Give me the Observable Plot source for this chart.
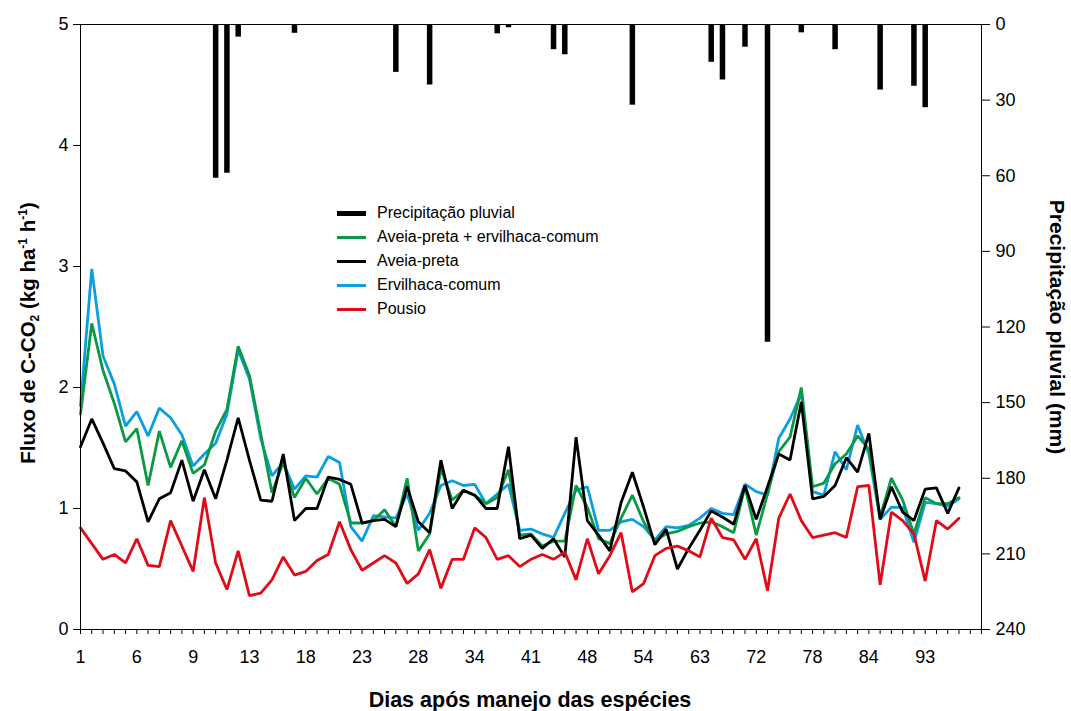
<!DOCTYPE html>
<html><head><meta charset="utf-8">
<script src="https://cdn.jsdelivr.net/npm/d3@7"></script>
<script src="https://cdn.jsdelivr.net/npm/@observablehq/plot@0.6"></script>
<style>
body{margin:0;background:#fff;}
#wrap{position:relative;width:1071px;height:711px;font-family:"Liberation Sans",Arial,sans-serif;}
#legend{position:absolute;left:337px;top:201px;font-size:16px;color:#000;}
.row{height:24.1px;display:flex;align-items:center;white-space:nowrap;}
.sw{width:29px;margin-right:11px;}
</style></head><body><div id="wrap"></div>
<script>
// X tick labels (days after species management), one label every 5 sampling dates
const xTickLabels = ["1","6","9","13","18","23","28","34","41","48","54","63","72","78","84","93"];
const fluxTicks = [0,1,2,3,4,5];
const precipTicks = [0,30,60,90,120,150,180,210,240];

// C-CO2 flux (kg ha-1 h-1), one value per sampling date (index 0..78)
const ervilhaca = [1.85,2.98,2.26,2.03,1.68,1.80,1.60,1.83,1.75,1.61,1.35,1.45,1.54,1.78,2.31,2.07,1.58,1.27,1.38,1.16,
  1.27,1.26,1.43,1.38,0.85,0.73,0.94,0.93,0.92,1.12,0.82,0.96,1.19,1.23,1.19,1.20,1.04,1.12,1.20,0.82,
  0.83,0.79,0.76,0.96,1.15,1.18,0.82,0.82,0.89,0.91,0.85,0.74,0.85,0.84,0.86,0.92,1.00,0.96,0.95,1.20,
  1.14,1.11,1.58,1.74,1.95,1.14,1.11,1.47,1.32,1.69,1.45,0.91,1.01,1.01,0.72,1.05,1.04,1.02,1.08];
const consorcio = [1.78,2.53,2.14,1.87,1.55,1.66,1.19,1.64,1.34,1.56,1.29,1.36,1.64,1.82,2.34,2.10,1.62,1.13,1.38,1.09,
  1.25,1.12,1.25,1.20,0.88,0.88,0.90,0.99,0.85,1.25,0.65,0.79,1.33,1.07,1.15,1.11,1.04,1.09,1.32,0.78,
  0.79,0.69,0.73,0.73,1.19,1.01,0.75,0.71,0.92,1.11,0.89,0.73,0.79,0.81,0.85,0.88,0.89,0.85,0.80,1.18,
  0.78,1.12,1.47,1.59,2.00,1.18,1.21,1.37,1.45,1.60,1.49,0.93,1.25,1.07,0.79,1.09,1.04,1.04,1.09];
const aveia = [1.51,1.74,1.54,1.33,1.31,1.22,0.89,1.08,1.13,1.40,1.06,1.32,1.08,1.40,1.75,1.40,1.07,1.06,1.45,0.90,
  1.00,1.00,1.26,1.24,1.20,0.88,0.90,0.91,0.85,1.18,0.89,0.80,1.40,1.00,1.15,1.11,1.00,1.00,1.51,0.75,
  0.78,0.67,0.75,0.60,1.59,0.90,0.78,0.65,1.05,1.30,1.01,0.70,0.83,0.50,0.67,0.82,0.98,0.93,0.87,1.19,
  0.91,1.18,1.45,1.40,1.88,1.08,1.10,1.19,1.42,1.30,1.62,0.91,1.18,0.97,0.90,1.16,1.17,0.96,1.17];
const pousio = [0.84,0.71,0.58,0.62,0.55,0.75,0.53,0.52,0.90,0.69,0.48,1.09,0.55,0.33,0.65,0.28,0.30,0.41,0.60,0.45,
  0.48,0.57,0.62,0.89,0.66,0.49,0.55,0.61,0.55,0.38,0.46,0.66,0.34,0.58,0.58,0.84,0.76,0.58,0.61,0.52,
  0.58,0.62,0.58,0.64,0.41,0.75,0.46,0.61,0.80,0.31,0.38,0.61,0.67,0.69,0.65,0.60,0.92,0.76,0.74,0.58,
  0.75,0.32,0.92,1.12,0.90,0.76,0.78,0.80,0.76,1.18,1.19,0.37,0.97,0.90,0.79,0.40,0.90,0.83,0.92];

// Rainfall (mm) at sampling-date index
const precipIndex = [12,13,14,19,28,31,37,38,42,43,49,56,57,59,61,64,67,71,74,75];
const precipMm    = [61,59,5,3.5,19,24,3.7,1.3,10,12,32,15,22,9,126,3.3,10,26,24.5,33];

const seriesNames  = ["Ervilhaca-comum","Aveia-preta + ervilhaca-comum","Aveia-preta","Pousio"];
const seriesColors = ["#0a9fe0","#0a9a45","#000000","#e30a17"];
const seriesValues = [ervilhaca, consorcio, aveia, pousio];
const legendOrder  = [1,2,0,3];

const MM_PER_UNIT = 240 / 5; // right axis 0..240 mm (reversed) maps to left axis 5..0
const precip = precipIndex.map((i,k)=>({i, mm: precipMm[k]}));

const plot = Plot.plot({
  width:1071, height:711,
  marginLeft:80, marginRight:90, marginTop:24, marginBottom:82,
  style:{fontFamily:"Liberation Sans, Arial, sans-serif", fontSize:"18px", color:"#000", background:"#fff", overflow:"visible"},
  x:{domain:[0,80], axis:null},
  y:{domain:[0,5], axis:null},
  marks:[
    Plot.ruleX(precip, {x:"i", y1:5, y2:d=>5-d.mm/MM_PER_UNIT, stroke:"#000", strokeWidth:5.5}),
    ...seriesValues.map((vals,k)=>Plot.lineY(vals, {x:(d,i)=>i, y:d=>d, stroke:seriesColors[k], strokeWidth:2.8, strokeLinejoin:"miter"})),
    Plot.frame({stroke:"#000", strokeWidth:1}),
    Plot.axisY({ticks:fluxTicks, tickSize:7, tickPadding:5, tickFormat:d=>String(d), label:null}),
    Plot.axisY({anchor:"right", ticks:precipTicks.map(v=>5-v/MM_PER_UNIT), tickFormat:d=>String(Math.round((5-d)*MM_PER_UNIT)), tickSize:8, tickPadding:6, label:null}),
    Plot.axisX({ticks:d3.range(0,81), tickSize:5, tickPadding:16, tickFormat:d=>(d%5===0 && xTickLabels[d/5]) ? xTickLabels[d/5] : "", label:null})
  ]
});

const svg = d3.select(plot);
const lt = svg.append("text").attr("transform","translate(35,333) rotate(-90)")
  .attr("text-anchor","middle").attr("font-weight","bold").attr("font-size",20.5).attr("fill","#000");
lt.append("tspan").text("Fluxo de C-CO");
lt.append("tspan").attr("font-size",12).attr("dy",4).text("2");
lt.append("tspan").attr("dy",-4).text(" (kg ha");
lt.append("tspan").attr("font-size",12).attr("dy",-8).text("-1");
lt.append("tspan").attr("dy",8).text(" h");
lt.append("tspan").attr("font-size",12).attr("dy",-8).text("-1");
lt.append("tspan").attr("dy",8).text(")");
svg.append("text").attr("transform","translate(1050,327) rotate(90)")
  .attr("text-anchor","middle").attr("font-weight","bold").attr("font-size",21).attr("fill","#000")
  .text("Precipitação pluvial (mm)");
svg.append("text").attr("x",530).attr("y",707)
  .attr("text-anchor","middle").attr("font-weight","bold").attr("font-size",21.5).attr("fill","#000")
  .text("Dias após manejo das espécies");

const wrap = document.getElementById("wrap");
wrap.appendChild(plot);

const legend = document.createElement("div");
legend.id = "legend";
let html = `<div class="row"><div class="sw" style="height:5px;background:#000"></div>Precipitação pluvial</div>`;
for (const k of legendOrder) {
  html += `<div class="row"><div class="sw" style="height:3px;background:${seriesColors[k]}"></div>${seriesNames[k]}</div>`;
}
legend.innerHTML = html;
wrap.appendChild(legend);
</script>
</body></html>
